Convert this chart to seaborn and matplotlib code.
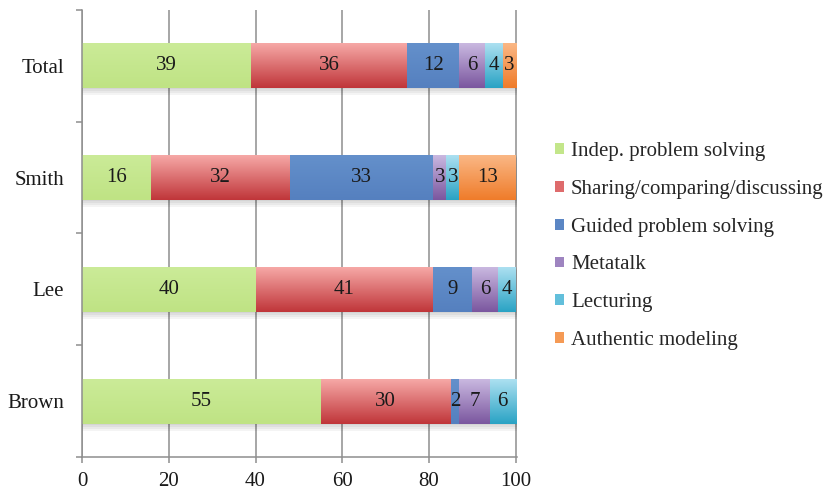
import numpy as np
import pandas as pd
import matplotlib
matplotlib.use("Agg")
import matplotlib.pyplot as plt
from matplotlib.patches import Patch, Rectangle
from matplotlib.colors import LinearSegmentedColormap
import seaborn as sns

# ---- data -------------------------------------------------------------
teachers = ["Total", "Smith", "Lee", "Brown"]
activities = [
    "Indep. problem solving",
    "Sharing/comparing/discussing",
    "Guided problem solving",
    "Metatalk",
    "Lecturing",
    "Authentic modeling",
]
indep = [39, 16, 40, 55]
sharing = [36, 32, 41, 30]
guided = [12, 33, 9, 2]
metatalk = [6, 3, 6, 7]
lecturing = [4, 3, 4, 6]
authentic = [3, 13, 0, 0]
series = [indep, sharing, guided, metatalk, lecturing, authentic]

# top / bottom shades of each segment's vertical gradient
tops = ["#cbeb98", "#f6a8a6", "#6490cb", "#c9b8e0", "#ace0f1", "#fab785"]
bottoms = ["#bfe384", "#c0363a", "#5580bf", "#7b579f", "#2aa3c4", "#ef7c2a"]

# ---- style ------------------------------------------------------------
sns.set_theme(style="white")
plt.rcParams["font.family"] = ["Liberation Serif", "DejaVu Serif"]
FS = 15

grey = "#8e8e8e"
fig = plt.figure(figsize=(8.34, 4.92), dpi=100)
ax = fig.add_axes([0.0983, 0.071, 0.5217, 0.909])

df = pd.DataFrame({"teacher": teachers})
left = np.zeros(len(teachers))
for name, vals, col in zip(activities, series, tops):
    df[name] = vals
    sns.barplot(data=df, x=name, y="teacher", order=teachers, left=left,
                color=col, width=0.4, saturation=1, linewidth=0, ax=ax)
    left = left + np.array(vals)

XMAX = 100.3
ax.set_xlim(0, XMAX)
ax.set_ylim(len(teachers) - 0.5, -0.5)

# soft drop shadow under each whole stacked bar
px_x = XMAX / (0.5217 * 834)
px_y = len(teachers) / (0.909 * 492)
for i in range(len(teachers)):
    first = ax.containers[0].patches[i]
    x0, y0, h = first.get_x(), first.get_y(), first.get_height()
    width = left[i]
    for k in range(1, 5):
        ax.add_patch(Rectangle((x0 + px_x * 0.5, y0 + px_y * (k - 1)),
                               width + px_x * k * 0.6, h + px_y * k,
                               facecolor="black", alpha=0.045,
                               linewidth=0, zorder=1.5))

# gradient fill for every segment, plus its value label
for cont, top, bot, vals in zip(ax.containers, tops, bottoms, series):
    cmap = LinearSegmentedColormap.from_list("g", [top, bot])
    grad = np.linspace(0, 1, 64).reshape(-1, 1)
    for patch, v in zip(cont.patches, vals):
        if v <= 0:
            continue
        x0, w = patch.get_x(), patch.get_width()
        y0, h = patch.get_y(), patch.get_height()
        ax.imshow(grad, cmap=cmap, aspect="auto", interpolation="bilinear",
                  extent=(x0, x0 + w, y0 + h, y0), zorder=2.5)
    ax.bar_label(cont, labels=[str(v) if v > 0 else "" for v in vals],
                 label_type="center", fontsize=FS, color="#1a1a1a")
for t in ax.texts:
    t.set_zorder(5)

ax.set_xlim(0, XMAX)
ax.set_ylim(len(teachers) - 0.5, -0.5)

# axes, ticks and grid
ax.set_xlabel("")
ax.set_ylabel("")
ax.set_xticks([0, 20, 40, 60, 80, 100])
ax.xaxis.grid(True, color=grey, linewidth=1.1)
ax.yaxis.grid(False)
ax.set_axisbelow(True)
for s in ["top", "right"]:
    ax.spines[s].set_visible(False)
for s in ["left", "bottom"]:
    ax.spines[s].set_color(grey)
    ax.spines[s].set_linewidth(1.1)
ax.tick_params(axis="x", bottom=True, length=4.5, width=1.1, color=grey,
               pad=6.5, labelsize=FS, labelcolor="#1a1a1a")
ax.tick_params(axis="y", which="major", left=False, length=0, pad=13,
               labelsize=FS, labelcolor="#1a1a1a")
ax.set_yticks(np.arange(-0.5, len(teachers), 1.0), minor=True)
ax.tick_params(axis="y", which="minor", left=True, length=4.5, width=1.1,
               color=grey)

# legend
handles = [Patch(facecolor=c, edgecolor="none") for c in
           ["#c3e68a", "#de6b6c", "#5b86c4", "#9e84c0", "#62bfdb", "#f59a55"]]
fig.legend(handles, activities, loc="center left",
           bbox_to_anchor=(0.653, 0.5), frameon=False, fontsize=FS,
           handlelength=0.42, handleheight=0.42, handletextpad=0.35,
           labelspacing=0.9, borderpad=0)

fig.savefig("out.png", dpi=100)
